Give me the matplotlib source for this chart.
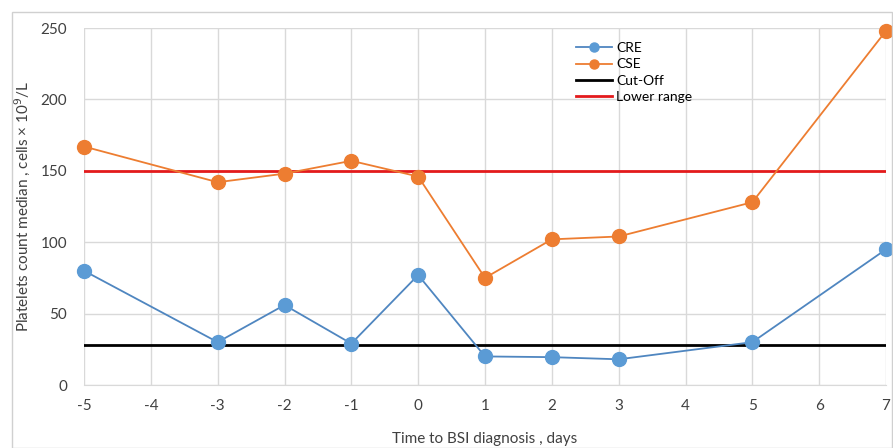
import matplotlib
matplotlib.use("Agg")
import matplotlib.pyplot as plt
from matplotlib.patches import Rectangle

plt.rcParams['font.family'] = ['Lato', 'DejaVu Sans']

days = [-5, -3, -2, -1, 0, 1, 2, 3, 5, 7]
cre = [80, 30, 56, 29, 77, 20, 19.5, 18, 30, 95]
cse = [167, 142, 148, 157, 146, 75, 102, 104, 128, 248]
cutoff = 28
lower_range = 150
xticks = list(range(-5, 8))
yticks = [0, 50, 100, 150, 200, 250]

fig = plt.figure(figsize=(8.93, 4.48), dpi=100)
fig.patches.append(Rectangle((12/893, 0.0), 880/893, 1 - 12/448, transform=fig.transFigure,
                             fill=False, edgecolor='#d0d0d0', linewidth=1))
ax = fig.add_axes([84/893, 1 - 385/448, 802/893, 357/448])

ax.plot(days, cre, color='#4F86C0', marker='o', markersize=10, markerfacecolor='#5B9BD5',
        markeredgecolor='#5B9BD5', linewidth=1.3, label='CRE', clip_on=False, zorder=4)
ax.plot(days, cse, color='#ED7D31', marker='o', markersize=10, markerfacecolor='#ED7D31',
        markeredgecolor='#ED7D31', linewidth=1.3, label='CSE', clip_on=False, zorder=4)
ax.axhline(cutoff, color='black', linewidth=2, label='Cut-Off', zorder=3)
ax.axhline(lower_range, color='#E31A1C', linewidth=2, label='Lower range', zorder=3)

ax.set_xlim(-5, 7)
ax.set_ylim(0, 250)
ax.set_xticks(xticks)
ax.set_yticks(yticks)
ax.set_xticklabels([str(t) for t in xticks])
ax.grid(True, color='#d9d9d9', linewidth=1)
ax.set_axisbelow(True)
for s in ['top', 'right', 'left']:
    ax.spines[s].set_visible(False)
ax.spines['bottom'].set_color('#d9d9d9')
ax.tick_params(axis='x', length=0, labelsize=11, colors='#404040', pad=10)
ax.tick_params(axis='y', length=0, labelsize=11, colors='#404040', pad=12)
ax.set_xlabel('Time to BSI diagnosis , days', fontsize=11, color='#404040', labelpad=14)
ax.set_ylabel('Platelets count median , cells × 10$^9$/L', fontsize=11, color='#404040', labelpad=6)

leg = ax.legend(loc='upper left', bbox_to_anchor=(0.598, 0.995), frameon=False, fontsize=10,
                handlelength=2.6, labelspacing=0.3, handletextpad=0.3, markerscale=0.65)

fig.savefig('out.png', dpi=100)
